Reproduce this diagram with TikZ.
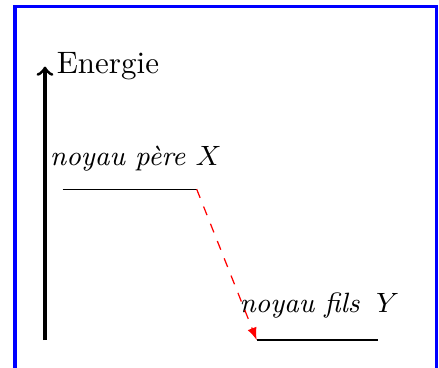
\documentclass[tikz,border=0pt]{standalone}
\usepackage{tikz}
\usetikzlibrary{arrows,positioning,calc}

\begin{document}
\begin{tikzpicture}[
  level/.style={draw=black, thin},
  lab/.style={anchor=base, inner sep=0pt, font=\small\itshape},
  axis/.style={->, line width=1pt},
  trans/.style={-latex, red, dashed}
]
  \useasboundingbox (-0.51,-0.306) rectangle (4.467,3.855);
  \clip (-0.51,-0.306) rectangle (4.467,3.855);
  \draw[blue, line width=1pt] (-0.34,-1) rectangle (4.44,3.78);
  % axe des energies
  \coordinate (O) at (0,0);
  \coordinate (E) at (0,3.1);
  \draw[axis] (O) -- (E) node[right] (en) {Energie};
  % niveaux
  \coordinate (X1) at (0.2,1.71);
  \coordinate (X2) at (1.72,1.71);
  \coordinate (Y1) at (2.4,0);
  \coordinate (Y2) at (3.78,0);
  \draw[level] (X1) -- (X2);
  \draw[level] (Y1) -- (Y2);
  \node[lab] (px) at (1.03,1.98) {noyau père $X$};
  \node[lab] (fy) at (3.11,0.317) {noyau fils \hspace{2pt}$Y$};
  \draw[trans] (X2) -- (Y1);
\end{tikzpicture}
\end{document}
